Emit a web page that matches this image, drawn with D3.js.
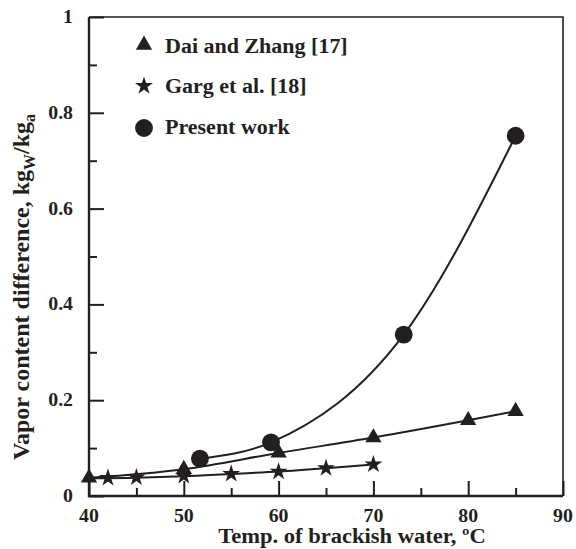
<!DOCTYPE html>
<html>
<head>
<meta charset="utf-8">
<script src="https://cdn.jsdelivr.net/npm/d3@7"></script>
<style>
  body { margin: 0; background: #fff; }
  svg { display: block; }
  text { font-family: "Liberation Serif", "Times New Roman", serif; font-weight: bold; fill: #231f20; }
</style>
</head>
<body>
<svg width="576" height="549"></svg>
<script>
// data
var tempDai = [40, 50, 60, 70, 80, 85];
var vapDai  = [0.038, 0.056, 0.090, 0.122, 0.158, 0.177];

var tempGarg = [42, 45, 50, 55, 60, 65, 70];
var vapGarg  = [0.038, 0.039, 0.042, 0.046, 0.051, 0.058, 0.066];
// trend line for Garg starts at the left axis
var gargLineTemp = [40, 45, 50, 55, 60, 65, 70];
var gargLineVap  = [0.037, 0.038, 0.041, 0.046, 0.051, 0.058, 0.066];

var tempPresent = [51.7, 59.2, 73.2, 85];
var vapPresent  = [0.078, 0.112, 0.337, 0.752];

var xTicks = [40, 50, 60, 70, 80, 90];
var yTicks = [0, 0.2, 0.4, 0.6, 0.8, 1];
var yTickLabels = ["0", "0.2", "0.4", "0.6", "0.8", "1"];
var legendNames = ["Dai and Zhang [17]", "Garg et al. [18]", "Present work"];

var ink = "#231f20";
var sx = 1.1; // the printed type is a bit wide
var svg = d3.select("svg");

var x = d3.scaleLinear().domain([40, 90]).range([89, 563]);
var y = d3.scaleLinear().domain([0, 1]).range([496, 17]);

function zip(a, b) {
    return a.map(function(v, i) { return [v, b[i]]; });
}

// put a text at (px,py) stretched horizontally
function wideText(g, px, py, size, anchor, str) {
    return g.append("text")
        .attr("transform", "translate(" + px + "," + py + ") scale(" + sx + ",1)")
        .attr("text-anchor", anchor)
        .attr("font-size", size)
        .text(str);
}

// frame (top + right)
svg.append("path")
    .attr("d", "M" + x(40) + "," + y(1) + "H" + x(90) + "V" + y(0))
    .attr("fill", "none").attr("stroke", ink).attr("stroke-width", 1.6);

// ticks, drawn inward with the axis generators
function tickLines(axis, tr) {
    var g = svg.append("g").attr("transform", tr).call(axis);
    g.select(".domain").remove();
    g.selectAll(".tick text").remove();
    g.selectAll(".tick line").attr("stroke", ink).attr("stroke-width", 2);
}
tickLines(d3.axisBottom(x).tickValues(xTicks).tickSize(-15), "translate(0," + y(0) + ")");
tickLines(d3.axisBottom(x).tickValues([45, 55, 65, 75, 85]).tickSize(-8), "translate(0," + y(0) + ")");
tickLines(d3.axisLeft(y).tickValues(yTicks).tickSize(-15), "translate(" + x(40) + ",0)");
tickLines(d3.axisLeft(y).tickValues([0.1, 0.3, 0.5, 0.7, 0.9]).tickSize(-8), "translate(" + x(40) + ",0)");

// tick labels
var labels = svg.append("g");
xTicks.forEach(function(v) {
    wideText(labels, x(v), 522, 18, "middle", d3.format("d")(v));
});
yTicks.forEach(function(v, i) {
    wideText(labels, 73, y(v) + 6, 18, "end", yTickLabels[i]);
});

// axis lines
svg.append("path")
    .attr("d", "M" + x(40) + "," + y(1) + "V" + y(0) + "H" + x(90))
    .attr("fill", "none").attr("stroke", ink).attr("stroke-width", 2.4);

// curves
var line = d3.line()
    .x(function(d) { return x(d[0]); })
    .y(function(d) { return y(d[1]); })
    .curve(d3.curveMonotoneX);

svg.append("g").selectAll("path")
    .data([zip(gargLineTemp, gargLineVap), zip(tempDai, vapDai), zip(tempPresent, vapPresent)])
    .enter().append("path")
    .attr("d", line)
    .attr("fill", "none").attr("stroke", ink).attr("stroke-width", 2);

// markers
var triangle = d3.symbol().type(d3.symbolTriangle).size(115);
var star = d3.symbol().type(d3.symbolStar).size(100);
var circle = d3.symbol().type(d3.symbolCircle).size(250);

function drawMarkers(pts, sym) {
    svg.append("g").selectAll("path")
        .data(pts).enter().append("path")
        .attr("d", sym)
        .attr("transform", function(d) { return "translate(" + x(d[0]) + "," + y(d[1]) + ")"; })
        .attr("fill", ink);
}
drawMarkers(zip(tempGarg, vapGarg), star);
drawMarkers(zip(tempDai, vapDai), triangle);
drawMarkers(zip(tempPresent, vapPresent), circle);

// legend
var legendSyms = [triangle, star, circle];
var legendSymY = [45, 86, 128];
var legendTextY = [53, 93, 134];
var leg = svg.append("g");
legendNames.forEach(function(name, i) {
    leg.append("path")
        .attr("d", legendSyms[i]())
        .attr("transform", "translate(144," + legendSymY[i] + ")")
        .attr("fill", ink);
    wideText(leg, 165, legendTextY[i], 20, "start", name);
});

// axis titles
wideText(svg, 352, 543, 20.5, "middle", "Temp. of brackish water, \u00baC");

var yt = svg.append("text")
    .attr("transform", "translate(29,287) rotate(-90)")
    .attr("text-anchor", "middle")
    .attr("font-size", 24);
yt.append("tspan").text("Vapor content difference, kg");
yt.append("tspan").attr("font-size", 16).attr("dy", 6).text("W");
yt.append("tspan").attr("dy", -6).text("/kg");
yt.append("tspan").attr("font-size", 16).attr("dy", 6).text("a");
</script>
</body>
</html>
